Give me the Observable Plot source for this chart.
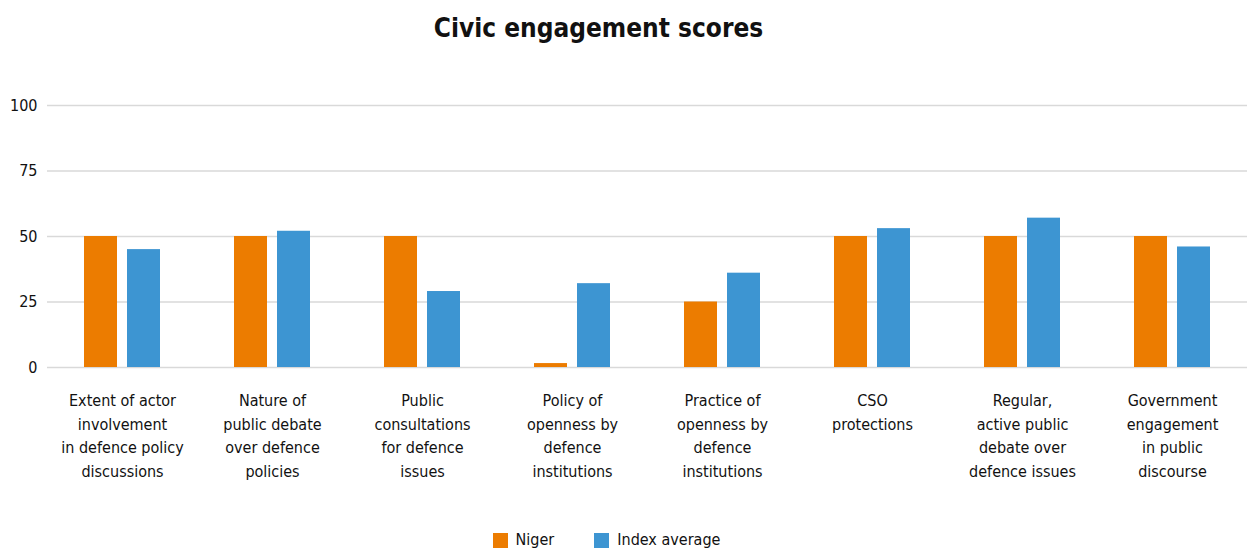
<!DOCTYPE html>
<html>
<head>
<meta charset="utf-8">
<script src="https://cdn.jsdelivr.net/npm/d3@7"></script>
<script src="https://cdn.jsdelivr.net/npm/@observablehq/plot@0.6"></script>
<style>
  html, body { margin: 0; padding: 0; background: #fff; }
  body { width: 1247px; height: 554px; overflow: hidden; font-family: "Liberation Sans Narrow", "DejaVu Sans Condensed", sans-serif; color: #111; }
  #title { height: 56px; line-height: 56px; text-align: center; font-size: 26px; font-weight: bold; padding-right: 50px; }
  #legend { display: flex; justify-content: center; align-items: center; gap: 40px; font-size: 16px; padding-right: 34px; height: 22px; padding-top: 3px; line-height: 18px; }
  .item { display: flex; align-items: center; gap: 8px; }
  .sw { width: 15px; height: 15px; display: inline-block; }
</style>
</head>
<body>
<div id="title">Civic engagement scores</div>
<div id="chart"></div>
<div id="legend"></div>
<script>
const categories = [
  "Extent of actor\ninvolvement\nin defence policy\ndiscussions",
  "Nature of\npublic debate\nover defence\npolicies",
  "Public\nconsultations\nfor defence\nissues",
  "Policy of\nopenness by\ndefence\ninstitutions",
  "Practice of\nopenness by\ndefence\ninstitutions",
  "CSO\nprotections",
  "Regular,\nactive public\ndebate over\ndefence issues",
  "Government\nengagement\nin public\ndiscourse"
];
const seriesNames = ["Niger", "Index average"];
const nigerValues = [50, 50, 50, 1.5, 25, 50, 50, 50];
const averageValues = [45, 52, 29, 32, 36, 53, 57, 46];
const seriesColors = ["#EC7C00", "#3D95D2"];
const yTicks = [0, 25, 50, 75, 100];

const data = [];
categories.forEach((c, i) => {
  data.push({category: c, series: seriesNames[0], value: nigerValues[i]});
  data.push({category: c, series: seriesNames[1], value: averageValues[i]});
});

const plot = Plot.plot({
  width: 1247,
  height: 470,
  marginLeft: 47,
  marginRight: 0,
  marginTop: 49,
  marginBottom: 159,
  style: {fontFamily: "'Liberation Sans Narrow', 'DejaVu Sans Condensed', sans-serif", fontSize: "16px", color: "#111"},
  fx: {domain: categories, padding: 0, label: null},
  x: {domain: seriesNames, paddingInner: 0.2326, paddingOuter: 0.86, axis: null},
  y: {domain: [0, 100], label: null},
  color: {domain: seriesNames, range: seriesColors},
  marks: [
    Plot.ruleY(yTicks, {stroke: "#d9d9d9", strokeWidth: 1.7, strokeOpacity: 1}),
    Plot.axisY({ticks: yTicks, tickSize: 0, tickPadding: 10, label: null, fontSize: 16}),
    Plot.axisFx({anchor: "bottom", tickSize: 0, tickPadding: 22, label: null, lineHeight: 1.47, fontSize: 16, lineAnchor: "top"}),
    Plot.barY(data, {fx: "category", x: "series", y: "value", fill: "series"})
  ]
});
document.getElementById("chart").appendChild(plot);

const legend = document.getElementById("legend");
seriesNames.forEach((s, i) => {
  const item = document.createElement("div");
  item.className = "item";
  const sw = document.createElement("span");
  sw.className = "sw";
  sw.style.background = seriesColors[i];
  const t = document.createElement("span");
  t.textContent = s;
  item.appendChild(sw);
  item.appendChild(t);
  legend.appendChild(item);
});
</script>
</body>
</html>
